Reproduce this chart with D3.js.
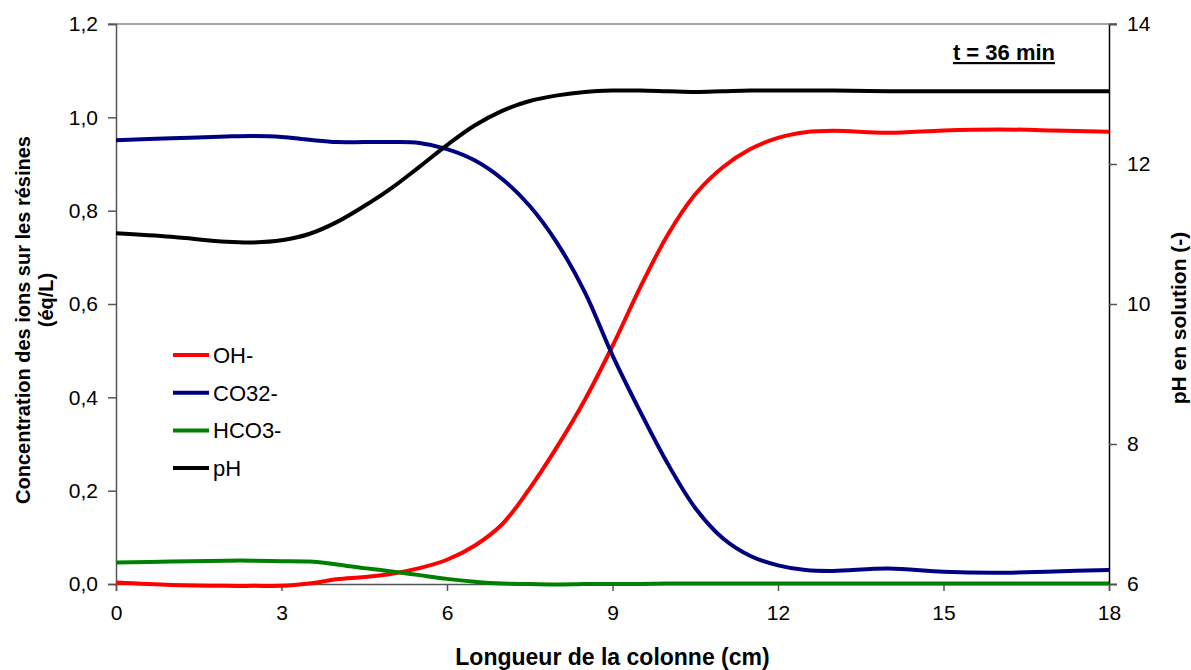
<!DOCTYPE html>
<html>
<head>
<meta charset="utf-8">
<script src="https://cdn.jsdelivr.net/npm/d3@7"></script>
<style>
  body { margin: 0; background: #fff; }
  svg text { font-family: "Liberation Sans", Arial, sans-serif; }
</style>
</head>
<body>
<svg id="chart" width="1191" height="670"></svg>
<script>
// ---- data ----
const positions = [0,1,2,2.5,3,3.5,4,4.5,5,5.5,6,6.5,7,7.5,8,8.5,9,9.5,10,10.5,11,11.5,12,12.5,13,14,15,16,17,18];
const ohValues = [0.003,-0.002,-0.004,-0.004,-0.004,0.001,0.010,0.015,0.022,0.034,0.052,0.082,0.128,0.205,0.295,0.395,0.510,0.635,0.748,0.835,0.893,0.932,0.956,0.968,0.971,0.967,0.972,0.974,0.972,0.969];
const co3Values = [0.951,0.955,0.959,0.960,0.958,0.952,0.947,0.947,0.947,0.945,0.932,0.908,0.868,0.810,0.730,0.625,0.490,0.370,0.258,0.163,0.098,0.060,0.040,0.030,0.028,0.033,0.026,0.024,0.027,0.030];
const hco3Values = [0.046,0.048,0.050,0.050,0.049,0.048,0.042,0.034,0.027,0.019,0.011,0.005,0.001,0.000,-0.001,0.000,0.000,0.000,0.001,0.001,0.001,0.001,0.001,0.001,0.001,0.001,0.001,0.001,0.001,0.001];
const phValues = [11.01,10.96,10.89,10.88,10.91,11.00,11.17,11.40,11.66,11.96,12.27,12.55,12.76,12.90,12.98,13.03,13.05,13.05,13.04,13.03,13.04,13.05,13.05,13.05,13.05,13.04,13.04,13.04,13.04,13.04];
const seriesNames = ["OH-","CO32-","HCO3-","pH"];
const seriesColors = ["#ff0000","#000080","#008000","#000000"];
const xTicks = [0,3,6,9,12,15,18];
const yLeftTicks = [0,0.2,0.4,0.6,0.8,1.0,1.2];
const yRightTicks = [6,8,10,12,14];
const annotation = "t = 36 min";
const xTitle = "Longueur de la colonne (cm)";
const yLeftTitle = ["Concentration des ions sur les résines","(éq/L)"];
const yRightTitle = "pH en solution (-)";

// ---- layout ----
const L = 116, R = 1109, T = 24, B = 584;
const svg = d3.select("#chart");
const x = d3.scaleLinear().domain([0,18]).range([L,R]);
const yL = d3.scaleLinear().domain([0,1.2]).range([B,T]);
const yR = d3.scaleLinear().domain([6,14]).range([B,T]);
const fmt = d => d3.format(".1f")(d).replace(".", ",");

// top border
svg.append("line").attr("x1",L-8).attr("x2",R+8).attr("y1",T).attr("y2",T)
  .attr("stroke","#888").attr("stroke-width",1.5);

// left axis
const gL = svg.append("g").attr("transform",`translate(${L},0)`)
  .call(d3.axisLeft(yL).tickValues(yLeftTicks).tickFormat(fmt).tickSizeOuter(0).tickSize(8).tickPadding(10));
gL.select(".domain").attr("stroke","#555").attr("stroke-width",1.5);
gL.selectAll(".tick line").attr("stroke","#555").attr("stroke-width",1.5);
gL.selectAll(".tick text").attr("font-size",21).attr("fill","#000").attr("font-family","Liberation Sans, Arial, sans-serif");

// right axis
const gR = svg.append("g").attr("transform",`translate(${R},0)`)
  .call(d3.axisRight(yR).tickValues(yRightTicks).tickFormat(d3.format("d")).tickSizeOuter(0).tickSize(8).tickPadding(10));
gR.select(".domain").attr("stroke","#000").attr("stroke-width",1.5);
gR.selectAll(".tick line").attr("stroke","#555").attr("stroke-width",1.5);
gR.selectAll(".tick text").attr("font-size",21).attr("fill","#000").attr("font-family","Liberation Sans, Arial, sans-serif");

// bottom axis
const gB = svg.append("g").attr("transform",`translate(0,${B})`)
  .call(d3.axisBottom(x).tickValues(xTicks).tickFormat(d3.format("d")).tickSizeOuter(0).tickSize(7).tickPadding(14));
gB.select(".domain").attr("stroke","#555").attr("stroke-width",1.5);
gB.selectAll(".tick line").attr("stroke","#555").attr("stroke-width",1.5);
gB.selectAll(".tick text").attr("font-size",21).attr("fill","#000").attr("font-family","Liberation Sans, Arial, sans-serif");

// series
const series = [
  {name: seriesNames[0], color: seriesColors[0], vals: ohValues, scale: yL},
  {name: seriesNames[1], color: seriesColors[1], vals: co3Values, scale: yL},
  {name: seriesNames[2], color: seriesColors[2], vals: hco3Values, scale: yL},
  {name: seriesNames[3], color: seriesColors[3], vals: phValues, scale: yR}
];
series.forEach(s => {
  const line = d3.line().x((d,i) => x(positions[i])).y(d => s.scale(d)).curve(d3.curveCatmullRom.alpha(0.5));
  svg.append("path").datum(s.vals).attr("d", line)
    .attr("fill","none").attr("stroke", s.color).attr("stroke-width",4)
    .attr("stroke-linejoin","round").attr("stroke-linecap","butt");
});

// legend
const lg = svg.append("g").attr("transform","translate(173,355)");
series.forEach((s,i) => {
  const g = lg.append("g").attr("transform",`translate(0,${i*37.7})`);
  g.append("line").attr("x1",0).attr("x2",36).attr("y1",0).attr("y2",0)
    .attr("stroke",s.color).attr("stroke-width",4);
  g.append("text").attr("x",40).attr("y",8).attr("font-size",22).text(s.name);
});

// annotation
svg.append("text").attr("x",1055).attr("y",60).attr("text-anchor","end")
  .attr("font-size",22).attr("font-weight","bold").attr("text-decoration","underline").text(annotation);

// axis titles
svg.append("text").attr("x",(L+R)/2).attr("y",665).attr("text-anchor","middle")
  .attr("font-size",23).attr("font-weight","bold").text(xTitle);
svg.append("text").attr("transform","translate(30,320) rotate(-90)").attr("text-anchor","middle")
  .attr("font-size",20).attr("font-weight","bold").text(yLeftTitle[0]);
svg.append("text").attr("transform","translate(53,300) rotate(-90)").attr("text-anchor","middle")
  .attr("font-size",20).attr("font-weight","bold").text(yLeftTitle[1]);
svg.append("text").attr("transform","translate(1186,318) rotate(-90)").attr("text-anchor","middle")
  .attr("font-size",21).attr("font-weight","bold").text(yRightTitle);
</script>
</body>
</html>
